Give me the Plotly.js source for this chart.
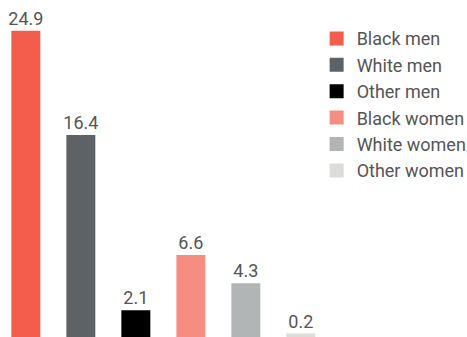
<!DOCTYPE html>
<html>
<head>
<meta charset="utf-8">
<script src="https://cdn.plot.ly/plotly-3.0.1.min.js"></script>
<style>html,body{margin:0;padding:0;background:#fff}#chart{width:467px;height:337px}</style>
</head>
<body>
<div id="chart"></div>
<script>
var categories = ["Black men", "White men", "Other men", "Black women", "White women", "Other women"];
var values = [24.9, 16.4, 2.1, 6.6, 4.3, 0.2];
var labels = ["24.9", "16.4", "2.1", "6.6", "4.3", "0.2"];
var colors = ["#f25e4b", "#5d6266", "#000000", "#f58d81", "#b2b5b5", "#dddcd6"];

var traces = categories.map(function (c, i) {
  return {
    type: "bar",
    name: c,
    x: [c],
    y: [values[i]],
    text: [labels[i]],
    textposition: "outside",
    constraintext: "none",
    cliponaxis: false,
    textfont: {family: "Roboto, sans-serif", size: 18, color: "#555"},
    marker: {color: colors[i], line: {color: colors[i], width: 2}},
    hoverinfo: "none"
  };
});

var layout = {
  width: 467,
  height: 337,
  margin: {l: 0, r: 137, t: 0, b: 0, autoexpand: false},
  paper_bgcolor: "#fff",
  plot_bgcolor: "#fff",
  barmode: "overlay",
  bargap: 0.51,
  showlegend: true,
  font: {family: "Roboto, sans-serif", size: 18, color: "#555"},
  xaxis: {visible: false, categoryorder: "array", categoryarray: categories, range: [-0.47, 5.53]},
  yaxis: {visible: false, range: [0, 27.5]},
  legend: {
    xref: "container", yref: "container",
    x: 0.678, y: 0.94, xanchor: "left", yanchor: "top",
    font: {family: "Roboto, sans-serif", size: 18, color: "#555"},
    tracegroupgap: 0,
    itemclick: false
  }
};

Plotly.newPlot("chart", traces, layout, {displayModeBar: false, staticPlot: true});
</script>
</body>
</html>
